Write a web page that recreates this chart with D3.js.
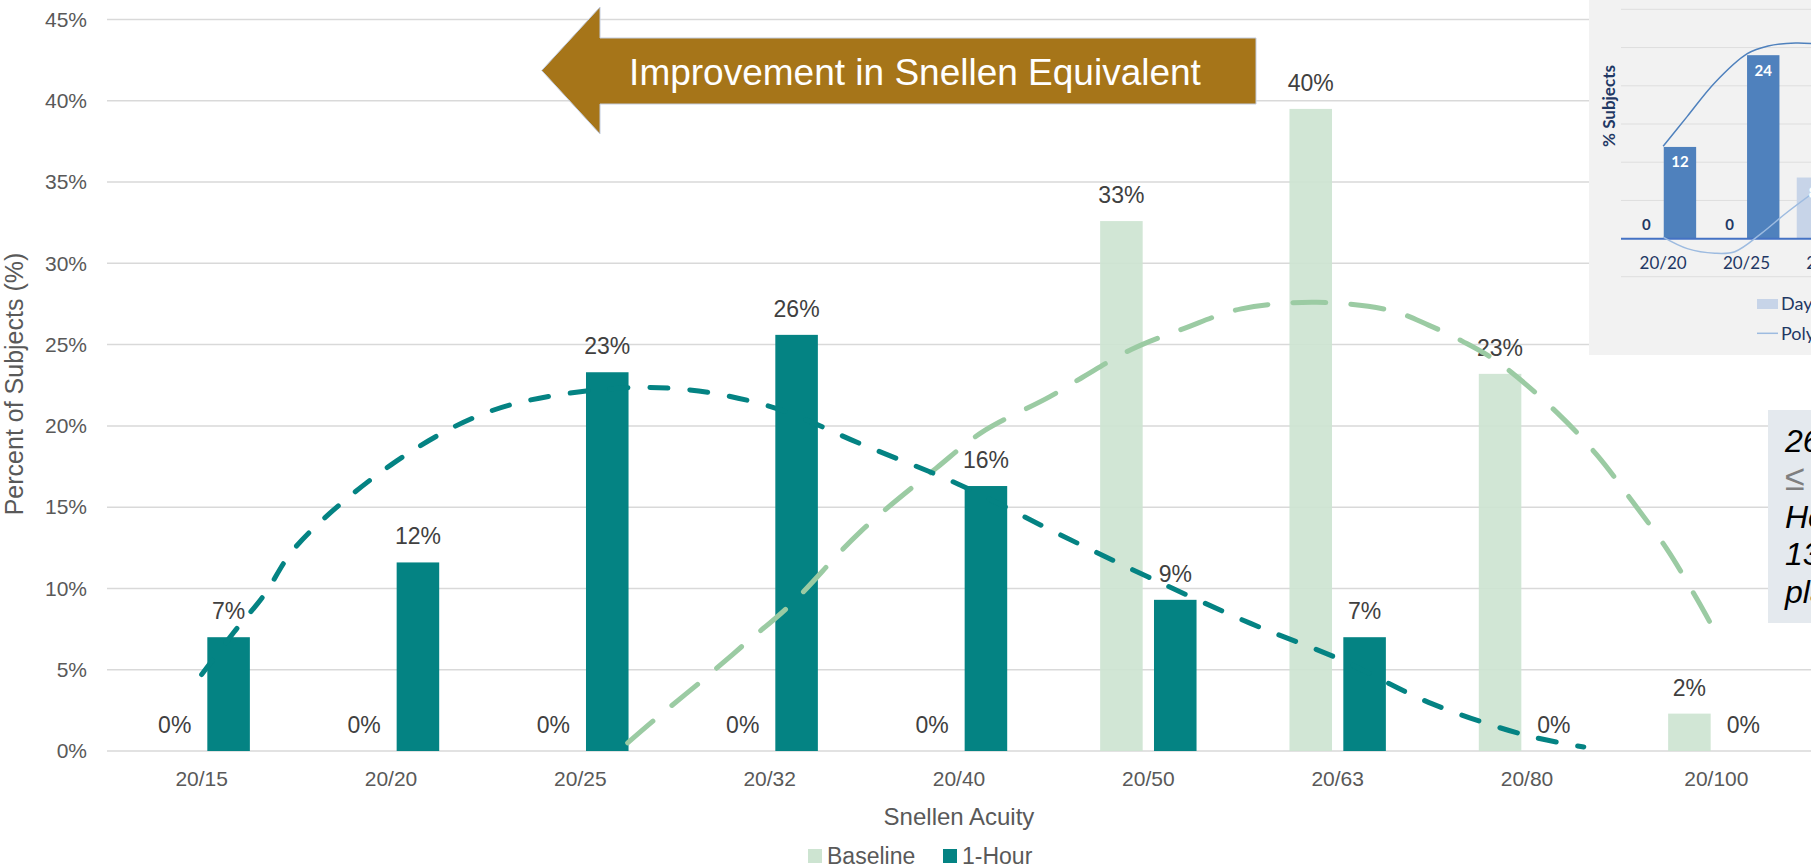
<!DOCTYPE html>
<html>
<head>
<meta charset="utf-8">
<script src="https://cdn.jsdelivr.net/npm/d3@7"></script>
<style>
html, body { margin: 0; padding: 0; background: #fff; overflow: hidden; }
svg { display: block; font-family: "Liberation Sans", Arial, sans-serif; }
</style>
</head>
<body>
<svg width="1811" height="868"></svg>
<script>
// main chart data (percent of subjects)
var categories = ['20/15', '20/20', '20/25', '20/32', '20/40', '20/50', '20/63', '20/80', '20/100'];
var baseline = [0, 0, 0, 0, 0, 32.6, 39.5, 23.2, 2.3];
var oneHour = [7.0, 11.6, 23.3, 25.6, 16.3, 9.3, 7.0, 0, 0];
var yTicks = [0, 5, 10, 15, 20, 25, 30, 35, 40, 45];

// trendlines: [category position, percent]
var baselineTrend = [[2.25, 0.5], [2.4, 2.0], [2.65, 4.4], [2.88, 6.7], [3.11, 9.0], [3.48, 13.5], [3.88, 17.4], [4.12, 19.6],
  [4.48, 21.8], [4.64, 22.9], [4.91, 24.7], [5.19, 26.0], [5.49, 27.2], [5.89, 27.6], [6.28, 27.1], [6.48, 26.2],
  [6.66, 25.2], [6.85, 23.9], [7.16, 20.8], [7.37, 18.2], [7.56, 15.3], [7.74, 12.4], [7.9, 9.3], [8.0, 7.2]];
var oneHourTrend = [[0, 4.7], [0.17, 7.3], [0.33, 9.6], [0.5, 12.6], [1, 17.6], [1.5, 20.8], [2, 22.1], [2.5, 22.3],
  [3, 21.2], [3.5, 18.8], [4, 16.4], [4.5, 13.5], [5, 10.7], [5.54, 7.85], [6, 5.7], [6.5, 2.9], [7, 0.95], [7.3, 0.25]];

// inset (cropped chart in the corner)
var insetCategories = ['20/20', '20/25', '20/32'];
var insetDay = [0, 0, 8];
var insetOther = [12, 24];
var insetTicks = [5, 10, 15, 20, 25, 30];
var insetTrendDark = [[0, 12.1], [0.29, 16.0], [0.62, 20.4], [1.01, 24.2], [1.26, 25.2], [1.59, 25.6], [1.8, 25.5]];
var insetTrendLight = [[0, 0.2], [0.29, -1.3], [0.62, -1.9], [0.86, -1.7], [1.18, 0.7], [1.47, 3.3], [1.8, 6.0]];

var boxLines = ['26% of subjects', '\u2264 20/40 at 1', 'Hour vs.', '13% with', 'placebo'];

var svg = d3.select('svg');
var series = ['Baseline', '1-Hour'];
var colors = { 'Baseline': '#cde4d1', '1-Hour': '#048383' };

var x = d3.scaleBand().domain(categories).range([107, 1811]);
var xPos = d3.scaleLinear().domain([-0.5, categories.length - 0.5]).range([107, 1811]);
var y = d3.scaleLinear().domain([0, 45]).range([751, 19.5]);
var x1 = d3.scaleBand().domain(series).range([x.bandwidth() / 2 - 48.2, x.bandwidth() / 2 + 48.2]).paddingInner(0.21);

// gridlines
svg.append('g').selectAll('line').data(yTicks).enter().append('line')
  .attr('x1', 107).attr('x2', 1811)
  .attr('y1', function(d) { return y(d); }).attr('y2', function(d) { return y(d); })
  .attr('stroke', '#d9d9d9').attr('stroke-width', 1.5);

// axes
var yAxis = svg.append('g').attr('transform', 'translate(107,0)')
  .call(d3.axisLeft(y).tickValues(yTicks).tickSize(0).tickPadding(20).tickFormat(function(d) { return d + '%'; }));
yAxis.select('.domain').remove();
yAxis.attr('font-family', null).attr('font-size', 21);
yAxis.selectAll('text').attr('fill', '#595959');

var xAxis = svg.append('g').attr('transform', 'translate(0,751)')
  .call(d3.axisBottom(x).tickSize(0).tickPadding(20));
xAxis.select('.domain').remove();
xAxis.attr('font-family', null).attr('font-size', 21);
xAxis.selectAll('text').attr('fill', '#595959');

svg.append('text').attr('x', 959).attr('y', 825).attr('text-anchor', 'middle')
  .attr('font-size', 24).attr('fill', '#595959').text('Snellen Acuity');
svg.append('text').attr('transform', 'translate(23,384) rotate(-90)').attr('text-anchor', 'middle')
  .attr('font-size', 25).attr('fill', '#595959').text('Percent of Subjects (%)');

// bars
var rows = categories.map(function(c, i) {
  return { cat: c, vals: [{ s: 'Baseline', v: baseline[i] }, { s: '1-Hour', v: oneHour[i] }] };
});
var groups = svg.append('g').selectAll('g').data(rows).enter().append('g')
  .attr('transform', function(d) { return 'translate(' + x(d.cat) + ',0)'; });
groups.selectAll('rect').data(function(d) { return d.vals; }).enter().append('rect')
  .attr('x', function(d) { return x1(d.s); }).attr('width', x1.bandwidth())
  .attr('y', function(d) { return y(d.v); }).attr('height', function(d) { return y(0) - y(d.v); })
  .attr('fill', function(d) { return colors[d.s]; })
  .attr('fill-opacity', function(d) { return d.s === 'Baseline' ? 0.92 : 1; });

// trendlines
var line = d3.line().x(function(d) { return xPos(d[0]); }).y(function(d) { return y(d[1]); }).curve(d3.curveCatmullRom);
svg.append('path').datum(baselineTrend).attr('d', line).attr('fill', 'none')
  .attr('stroke', '#9bcba3').attr('stroke-width', 5).attr('stroke-linecap', 'round').attr('stroke-dasharray', '33 25');
svg.append('path').datum(oneHourTrend).attr('d', line).attr('fill', 'none')
  .attr('stroke', '#048383').attr('stroke-width', 5).attr('stroke-linecap', 'round').attr('stroke-dasharray', '18 22');

// data labels
groups.selectAll('text').data(function(d) { return d.vals; }).enter().append('text')
  .attr('x', function(d) { return x1(d.s) + x1.bandwidth() / 2; })
  .attr('y', function(d) { return y(d.v) - 18; })
  .attr('text-anchor', 'middle').attr('font-size', 23).attr('fill', '#404040')
  .text(function(d) { return Math.round(d.v) + '%'; });

// legend
var legend = svg.append('g').selectAll('g').data(series).enter().append('g')
  .attr('transform', function(d, i) { return 'translate(' + (808 + i * 135) + ',849)'; });
legend.append('rect').attr('width', 14).attr('height', 14).attr('fill', function(d) { return colors[d]; });
legend.append('text').attr('x', 19).attr('y', 7).attr('dy', '0.35em').attr('font-size', 23).attr('fill', '#595959')
  .text(function(d) { return d; });

// arrow
svg.append('polygon')
  .attr('points', [[541.7, 70.5], [600, 7], [600, 38], [1256, 38], [1256, 104], [600, 104], [600, 134]].join(' '))
  .attr('fill', '#a67519').attr('stroke', '#c3cde0').attr('stroke-width', 1);
svg.append('text').attr('x', 915).attr('y', 85).attr('text-anchor', 'middle')
  .attr('font-size', 37).attr('fill', '#fff').text('Improvement in Snellen Equivalent');

// text box on the right (cut off by the picture edge, as in the source)
svg.append('rect').attr('x', 1768).attr('y', 410).attr('width', 60).attr('height', 213).attr('fill', '#e4e9ee');
svg.append('g').selectAll('text').data(boxLines).enter().append('text')
  .attr('x', 1785).attr('y', function(d, i) { return 451.7 + i * 37.9; })
  .attr('font-size', function(d, i) { return i === 1 ? 36 : 32; }).attr('font-style', 'italic')
  .attr('fill', function(d, i) { return i === 1 ? '#7f7f7f' : '#000'; })
  .text(function(d) { return d; });

// inset chart
var inset = svg.append('g');
inset.append('rect').attr('x', 1589).attr('y', 0).attr('width', 222).attr('height', 355).attr('fill', '#f2f2f2');
var xi = d3.scaleBand().domain(insetCategories).range([1621.5, 1621.5 + 3 * 83.3]);
var xiPos = d3.scaleLinear().domain([-0.5, 2.5]).range([1621.5, 1621.5 + 3 * 83.3]);
var yi = d3.scaleLinear().domain([0, 30]).range([238.7, 9.3]);
inset.selectAll('line.grid').data(insetTicks).enter().append('line').attr('class', 'grid')
  .attr('x1', 1621).attr('x2', 1811)
  .attr('y1', function(d) { return yi(d); }).attr('y2', function(d) { return yi(d); })
  .attr('stroke', '#dedede').attr('stroke-width', 1);
inset.append('line').attr('x1', 1621).attr('x2', 1811).attr('y1', 276.7).attr('y2', 276.7)
  .attr('stroke', '#dedede').attr('stroke-width', 1);

inset.selectAll('rect.day').data(insetDay).enter().append('rect').attr('class', 'day')
  .attr('x', function(d, i) { return xi(insetCategories[i]) + xi.bandwidth() / 2 - 33; })
  .attr('width', 32.4)
  .attr('y', function(d) { return yi(d); }).attr('height', function(d) { return yi(0) - yi(d); })
  .attr('fill', '#c7d4e8');
inset.selectAll('rect.other').data(insetOther).enter().append('rect').attr('class', 'other')
  .attr('x', function(d, i) { return xi(insetCategories[i]) + xi.bandwidth() / 2 + 0.6; })
  .attr('width', 32.4)
  .attr('y', function(d) { return yi(d); }).attr('height', function(d) { return yi(0) - yi(d); })
  .attr('fill', '#4f81bd');
inset.append('line').attr('x1', 1621).attr('x2', 1811).attr('y1', 238.7).attr('y2', 238.7)
  .attr('stroke', '#4472c4').attr('stroke-width', 2);

var iline = d3.line().x(function(d) { return xiPos(d[0]); }).y(function(d) { return yi(d[1]); }).curve(d3.curveCatmullRom);
inset.append('path').datum(insetTrendDark).attr('d', iline).attr('fill', 'none').attr('stroke', '#4f81bd').attr('stroke-width', 1.5);
inset.append('path').datum(insetTrendLight).attr('d', iline).attr('fill', 'none').attr('stroke', '#9dbbe0').attr('stroke-width', 1.5);

inset.selectAll('text.dayl').data(insetDay).enter().append('text').attr('class', 'dayl')
  .attr('x', function(d, i) { return xi(insetCategories[i]) + xi.bandwidth() / 2 - 16.8; })
  .attr('y', function(d) { return d === 0 ? yi(0) - 8.5 : yi(d) + 20.5; })
  .attr('text-anchor', 'middle').attr('font-family', 'Lato, "Open Sans", sans-serif').attr('font-weight', 'bold')
  .attr('font-size', 15).attr('fill', function(d) { return d === 0 ? '#1f3864' : '#fff'; })
  .text(function(d) { return d; });
inset.selectAll('text.othl').data(insetOther).enter().append('text').attr('class', 'othl')
  .attr('x', function(d, i) { return xi(insetCategories[i]) + xi.bandwidth() / 2 + 16.8; })
  .attr('y', function(d) { return yi(d) + 20.5; })
  .attr('text-anchor', 'middle').attr('font-family', 'Lato, "Open Sans", sans-serif').attr('font-weight', 'bold')
  .attr('font-size', 15).attr('fill', '#fff')
  .text(function(d) { return d; });
inset.selectAll('text.cat').data(insetCategories).enter().append('text').attr('class', 'cat')
  .attr('x', function(d) { return xi(d) + xi.bandwidth() / 2; }).attr('y', 269)
  .attr('text-anchor', 'middle').attr('font-family', 'Lato, "Open Sans", sans-serif')
  .attr('font-size', 17).attr('fill', '#1f3864').text(function(d) { return d; });
inset.append('text').attr('transform', 'translate(1615,106) rotate(-90)').attr('text-anchor', 'middle')
  .attr('font-family', 'Lato, "Open Sans", sans-serif').attr('font-weight', 'bold')
  .attr('font-size', 17).attr('fill', '#1f3864').text('% Subjects');
inset.append('rect').attr('x', 1757).attr('y', 299).attr('width', 21).attr('height', 10).attr('fill', '#c7d4e8');
inset.append('line').attr('x1', 1757).attr('x2', 1778).attr('y1', 333.3).attr('y2', 333.3).attr('stroke', '#9dbbe0').attr('stroke-width', 1.5);
inset.append('text').attr('x', 1781).attr('y', 304).attr('dy', '0.35em').attr('font-family', 'Lato, "Open Sans", sans-serif')
  .attr('font-size', 18).attr('fill', '#1f3864').text('Day 1');
inset.append('text').attr('x', 1781).attr('y', 333.3).attr('dy', '0.35em').attr('font-family', 'Lato, "Open Sans", sans-serif')
  .attr('font-size', 18).attr('fill', '#1f3864').text('Poly. (Day 1)');
</script>
</body>
</html>
